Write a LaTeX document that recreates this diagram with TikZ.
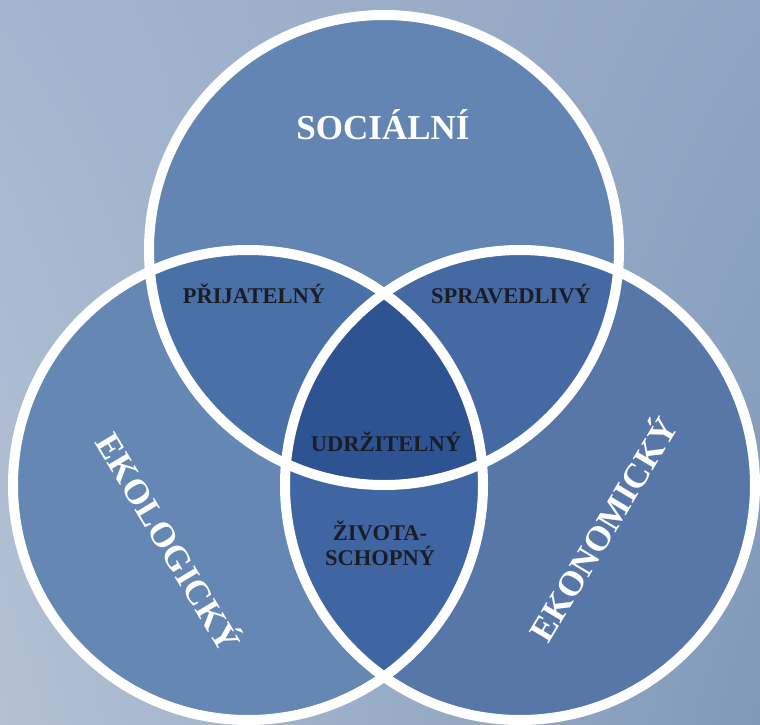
\documentclass[tikz,border=0pt]{standalone}
\usepackage{fontspec}
\usetikzlibrary{shadings}
\setmainfont{Liberation Serif}
\definecolor{skyA}{HTML}{A4B6CF}
\definecolor{skyB}{HTML}{90A5C3}
\definecolor{skyC}{HTML}{B4C1D4}
\definecolor{skyD}{HTML}{8099B9}
\definecolor{socfill}{HTML}{6285B3}
\definecolor{ekofill}{HTML}{6487B4}
\definecolor{ekonfill}{HTML}{5677A7}
\definecolor{sefill}{HTML}{4A70A8}
\definecolor{skfill}{HTML}{4569A2}
\definecolor{ekfill}{HTML}{3F66A2}
\definecolor{corefill}{HTML}{2D5393}
\definecolor{inktext}{HTML}{1C1C24}
\begin{document}
\begin{tikzpicture}[x=1pt,y=-1pt,
  ring/.style={draw=white,line width=10pt},
  outerlabel/.style={text=white,font=\bfseries\fontsize{35}{35}\selectfont,inner sep=0pt},
  innerlabel/.style={text=inktext,font=\bfseries\fontsize{22.5}{25}\selectfont,align=center,inner sep=0pt}]
\useasboundingbox (0,0) rectangle (760,725);
% sky backdrop
\shade[upper left=skyA, upper right=skyB, lower left=skyC, lower right=skyD] (0,0) rectangle (760,725);

% circle centres
\coordinate (S) at (384,250);
\coordinate (E) at (248,485);
\coordinate (K) at (520,485);
\def\rr{235pt}

% single-circle fills
\fill[socfill] (S) circle[radius=\rr];
\fill[ekofill] (E) circle[radius=\rr];
\fill[ekonfill] (K) circle[radius=\rr];

% pairwise overlaps
\begin{scope}
  \clip (S) circle[radius=\rr];
  \fill[sefill] (E) circle[radius=\rr];
  \fill[skfill] (K) circle[radius=\rr];
\end{scope}
\begin{scope}
  \clip (E) circle[radius=\rr];
  \fill[ekfill] (K) circle[radius=\rr];
\end{scope}
% common core
\begin{scope}
  \clip (S) circle[radius=\rr];
  \clip (E) circle[radius=\rr];
  \fill[corefill] (K) circle[radius=\rr];
\end{scope}

% white rings
\draw[ring] (S) circle[radius=\rr];
\draw[ring] (E) circle[radius=\rr];
\draw[ring] (K) circle[radius=\rr];

% labels
\node[outerlabel] (soc) at (383,125) {SOCIÁLNÍ};
\node[outerlabel,rotate=-59] (eko) at (171,541) {EKOLOGICKÝ};
\node[outerlabel,rotate=59] (ekon) at (601,528) {EKONOMICKÝ};
\node[innerlabel] (prij) at (254,294) {PŘIJATELNÝ};
\node[innerlabel] (sprav) at (511,294) {SPRAVEDLIVÝ};
\node[innerlabel] (udrz) at (386,442) {UDRŽITELNÝ};
\node[innerlabel] (ziv) at (380,543) {ŽIVOTA-\\SCHOPNÝ};
\end{tikzpicture}
\end{document}
